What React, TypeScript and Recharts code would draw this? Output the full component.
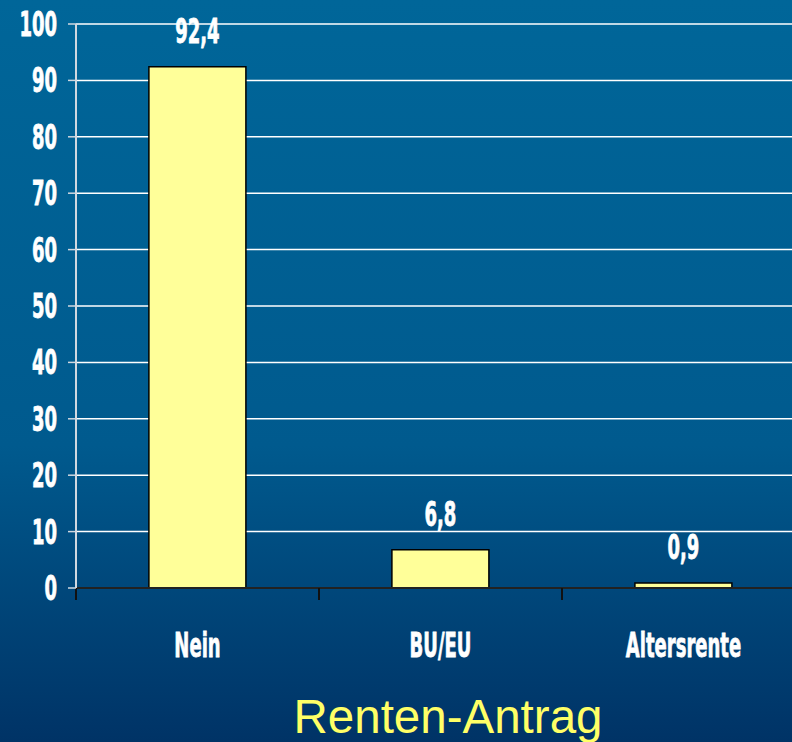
import React from "react";
import { BarChart, Bar, XAxis, YAxis, CartesianGrid, LabelList } from "recharts";

const categories = ["Nein", "BU/EU", "Altersrente"];
const values = [92.4, 6.8, 0.9];
const valueLabels = ["92,4", "6,8", "0,9"];
const yTicks = [0, 10, 20, 30, 40, 50, 60, 70, 80, 90, 100];
const edgeTicks = [0, 1, 2, 3];
const title = "Renten-Antrag";

const data = categories.map((c, i) => ({ name: c, value: values[i], label: valueLabels[i] }));

const FONT = "'Liberation Sans Narrow', 'Arial Narrow', 'DejaVu Sans Condensed', sans-serif";
const SX = 0.77;
const SY = 1.3;

const textStyle = {
  fill: "#ffffff",
  stroke: "#ffffff",
  strokeWidth: 0.6,
  fontFamily: FONT,
  fontWeight: "bold" as const,
  fontSize: 26,
};

const YTick = (props: any) => {
  const { x, y, payload } = props;
  return (
    <g transform={`translate(${x - 9},${y}) scale(${SX},${SY})`}>
      <text x={0} y={9.3} textAnchor="end" style={textStyle}>
        {payload.value}
      </text>
    </g>
  );
};

const XTick = (props: any) => {
  const { x, y, payload } = props;
  return (
    <g transform={`translate(${x},${y + 46.7}) scale(${SX},${SY})`}>
      <text x={0} y={0} textAnchor="middle" style={textStyle}>
        {payload.value}
      </text>
    </g>
  );
};

const ValueLabel = (props: any) => {
  const { x, y, width, index } = props;
  return (
    <g transform={`translate(${x + width / 2},${y - 24}) scale(${SX},${SY})`}>
      <text x={0} y={0} textAnchor="middle" style={textStyle}>
        {valueLabels[index]}
      </text>
    </g>
  );
};

const TitleLabel = () => (
  <text x={448} y={733} textAnchor="middle" fill="#ffff66" fontFamily="'Liberation Sans', Arial, sans-serif" fontSize={47.5}>
    {title}
  </text>
);

export default function App() {
  return (
    <div
      style={{
        position: "absolute",
        left: 0,
        top: 0,
        width: 792,
        height: 742,
        overflow: "hidden",
        background: "linear-gradient(to bottom, #006699 0%, #005a8e 60%, #003366 100%)",
      }}
    >
      <BarChart
        width={805}
        height={742}
        data={data}
        margin={{ top: 24, right: 0, left: 0, bottom: 0 }}
        barCategoryGap="30%"
      >
        <CartesianGrid horizontal vertical={false} stroke="#ffffff" strokeWidth={1.5} xAxisId="cat" />
        <XAxis
          xAxisId="cat"
          dataKey="name"
          type="category"
          height={140}
          axisLine={false}
          tickLine={false}
          tick={<XTick />}
          interval={0}
          label={<TitleLabel />}
        />
        <XAxis
          xAxisId="a0"
          type="number"
          dataKey="value"
          domain={[0, 3]}
          ticks={edgeTicks}
          allowDataOverflow
          height={14}
          axisLine={{ stroke: "#222222", strokeWidth: 2 }}
          tickLine={{ stroke: "#111111", strokeWidth: 2 }}
          tickSize={12}
          tick={() => <g />}
        />
        <YAxis
          width={76}
          domain={[0, 100]}
          ticks={yTicks}
          interval={0}
          axisLine={{ stroke: "#d0d8e0", strokeWidth: 2 }}
          tickLine={{ stroke: "#d0d8e0", strokeWidth: 1.5 }}
          tickSize={8}
          tick={<YTick />}
        />
        <Bar
          xAxisId="cat"
          dataKey="value"
          fill="#ffff99"
          stroke="#000000"
          strokeWidth={1.5}
          isAnimationActive={false}
        >
          <LabelList dataKey="label" content={<ValueLabel />} />
        </Bar>
      </BarChart>
    </div>
  );
}
